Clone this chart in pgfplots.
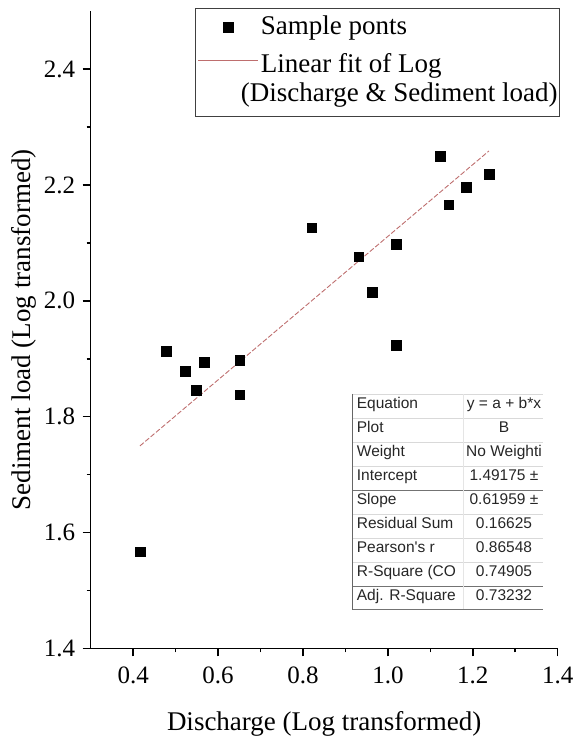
\documentclass[border=0pt]{standalone}
\usepackage{fontspec}
\setmainfont{Liberation Serif}
\newfontfamily\tabfont{Liberation Sans}
\usepackage{pgfplots}
\pgfplotsset{compat=1.18}

\definecolor{fitred}{RGB}{190,110,110}

\begin{document}
\begin{tikzpicture}[x=1pt,y=1pt]
\path[use as bounding box] (0,0) rectangle (577,740);
\begin{axis}[
  at={(90.7pt,91.7pt)}, anchor=south west,
  scale only axis, width=467pt, height=637pt,
  xmin=0.3, xmax=1.4, ymin=1.4, ymax=2.5,
  axis x line*=bottom, axis y line*=left,
  axis line style={-, line width=1.6pt},
  xtick={0.4,0.6,0.8,1.0,1.2,1.4},
  minor xtick={0.5,0.7,0.9,1.1,1.3},
  ytick={1.4,1.6,1.8,2.0,2.2,2.4},
  minor ytick={1.5,1.7,1.9,2.1,2.3},
  tick align=outside,
  major tick length=8pt, minor tick length=4pt,
  every tick/.style={black, line width=1.5pt},
  /pgf/number format/fixed,
  /pgf/number format/fixed zerofill,
  /pgf/number format/precision=1,
  /pgf/number format/assume math mode=true,
  tick label style={font=\fontsize{25}{29}\selectfont, inner sep=0pt},
  xticklabel style={anchor=north, yshift=-10.7pt},
  yticklabel style={anchor=east, xshift=-7.4pt},
  every axis x label/.style={at={(rel axis cs:0.5,0)}, anchor=base, yshift=-81.7pt,
    font=\fontsize{27}{31}\selectfont},
  every axis y label/.style={at={([xshift=-59.7pt]rel axis cs:0,0.5)}, rotate=90, anchor=base,
    font=\fontsize{27}{31}\selectfont},
  xlabel={Discharge (Log transformed)},
  ylabel={Sediment load (Log transformed)},
  legend style={
    at={(rel axis cs:1,1)}, anchor=north east, xshift=2.3pt, yshift=3.3pt,
    draw=black!75, line width=0.9pt,
    font=\fontsize{27}{29}\selectfont,
    inner xsep=0pt, inner ysep=5pt,
    row sep=8pt,
    nodes={text depth=},
    cells={anchor=west, inner xsep=0pt, inner ysep=1pt, text depth=},
    /tikz/every even column/.append style={column sep=3pt},
  },
  legend cell align=left,
]

% measured samples
\addplot[only marks, mark=square*, mark size=4.8pt, black,
  legend image code/.code={
    \path[draw=none] (-3pt,0pt) -- (60pt,0pt);
    \draw[black, fill=black] plot[mark=square*, mark size=4.8pt, only marks] coordinates {(30pt,0pt)};
  }] coordinates {
  (0.416,1.567)
  (0.478,1.913)
  (0.523,1.879)
  (0.549,1.846)
  (0.567,1.894)
  (0.651,1.897)
  (0.651,1.838)
  (0.821,2.126)
  (0.931,2.076)
  (0.963,2.015)
  (1.019,2.098)
  (1.019,1.923)
  (1.123,2.250)
  (1.143,2.166)
  (1.185,2.196)
  (1.238,2.219)
};
\addlegendentry{Sample ponts}

% least-squares line y = 1.49175 + 0.61959 x over the sampled range
\addplot[fitred, line width=0.9pt, dash pattern=on 5pt off 2pt,
  legend image code/.code={
    \path[draw=none] (-3pt,20pt) -- (0pt,20pt);
    \draw[fitred, solid, line width=0.9pt] (0pt,20pt) -- (60pt,20pt);
  }] coordinates {
  (0.416,1.7495)
  (1.238,2.2588)
};
\addlegendentry{\begin{tabular}{@{}l@{}}Linear fit of Log\\\hspace*{-20pt}(Discharge \& Sediment load)\end{tabular}}
\end{axis}

% regression summary table
\begin{scope}[font=\tabfont\fontsize{15.5}{18}\selectfont]
  \draw[black!15, line width=0.8pt] (352.7,346) -- (543,346);
  \foreach \i in {1,2,3,5,6,7}
    \draw[black!15, line width=0.8pt] (352.7,{346-24*\i}) -- (543,{346-24*\i});
  \foreach \i in {4,8}
    \draw[black!55, line width=0.9pt] (352.7,{346-24*\i}) -- (543,{346-24*\i});
  \draw[black!10, line width=0.8pt] (463,346) -- (463,130);
  \draw[black!60, line width=1.3pt] (352.7,346) -- (352.7,130);
  \draw[black!55, line width=1pt] (352.7,130) -- (543,130);
  \foreach \i/\a/\b in {
      0/{Equation}/{y = a + b*x},
      1/{Plot}/{B},
      2/{Weight}/{No Weighti},
      3/{Intercept}/{1.49175 ±},
      4/{Slope}/{0.61959 ±},
      5/{Residual Sum}/{0.16625},
      6/{Pearson's r}/{0.86548},
      7/{R-Square (CO}/{0.74905},
      8/{Adj. R-Square}/{0.73232}} {
    \node[anchor=mid west, inner sep=0pt, text=black!85] at (356.7,{346-24*\i-12}) {\a};
    \node[anchor=mid, inner sep=0pt, text=black!85] at (504,{346-24*\i-12}) {\b};
  }
\end{scope}
\end{tikzpicture}
\end{document}
